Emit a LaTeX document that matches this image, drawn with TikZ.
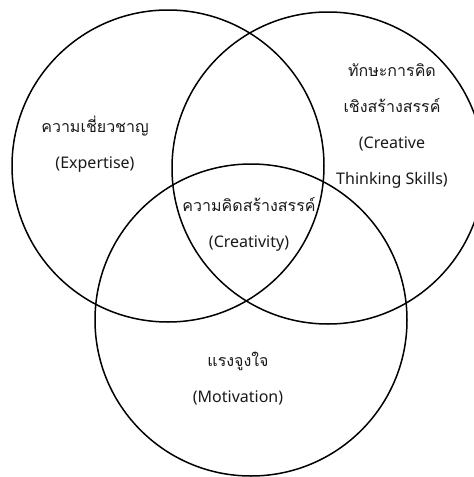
\documentclass[tikz,border=0pt]{standalone}
\usepackage{fontspec}
\setmainfont{Noto Sans}
\newfontfamily\thaifont[Script=Thai]{Loma}
\begin{document}
\begin{tikzpicture}[x=1pt,y=-1pt,
  ring/.style={circle,draw=black,line width=1.5pt,minimum size=312pt,inner sep=0pt,outer sep=0pt},
  lbl/.style={align=center,text=black!90,font=\fontsize{16}{36}\selectfont}]
\useasboundingbox (0,0) rectangle (474,477);
\clip (0,0) rectangle (474,477);
\node[ring] (L) at (168,166) {};
\node[ring] (R) at (328,168) {};
\node[ring] (B) at (251,320) {};
\node[lbl] (tL) at (95,144) {{\thaifont ความเชี่ยวชาญ}\\(Expertise)};
\node[lbl] (tR) at (392,126) {{\thaifont ทักษะการคิด}\\{\thaifont เชิงสร้างสรรค์}\\(Creative\\Thinking Skills)};
\node[lbl] (tC) at (249,224) {{\thaifont ความคิดสร้างสรรค์}\\(Creativity)};
\node[lbl] (tB) at (238,379) {{\thaifont แรงจูงใจ}\\(Motivation)};
\end{tikzpicture}
\end{document}
